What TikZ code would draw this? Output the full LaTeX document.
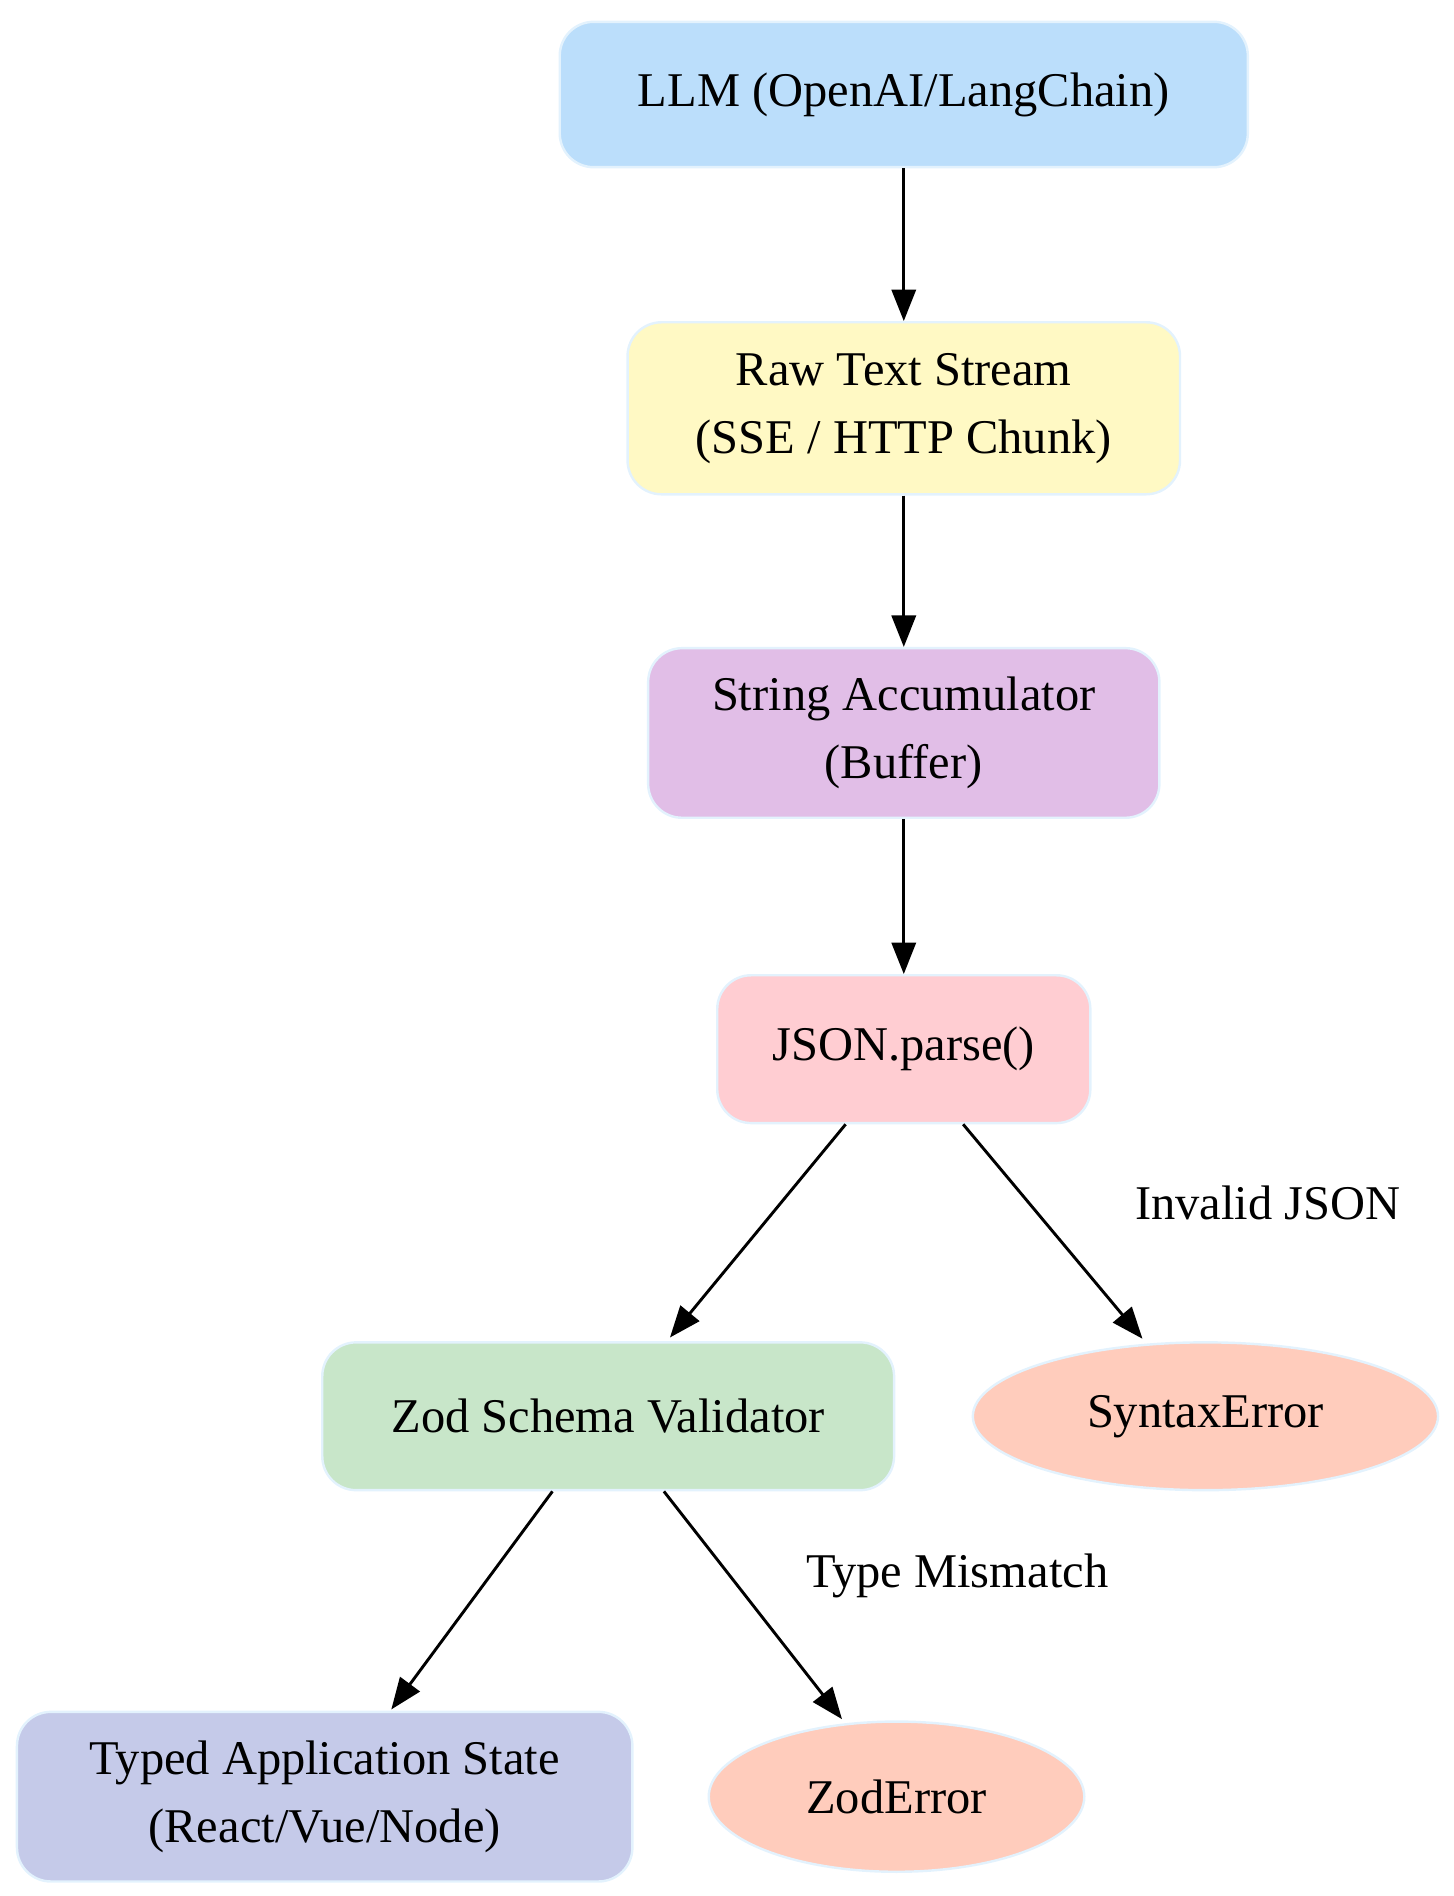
\documentclass[tikz,border=0pt]{standalone}
\usepackage{fontspec}
\setmainfont{Liberation Serif}
\usetikzlibrary{arrows.meta,calc,shapes.geometric}
\definecolor{bd}{HTML}{E3F2FD}
\begin{document}
\begin{tikzpicture}[x=0.5pt,y=-0.5pt,
 box/.style={draw=bd,line width=1pt,rounded corners=14pt,align=center,font=\fontsize{20}{28}\selectfont,inner sep=0pt},
 ell/.style={draw=bd,line width=1pt,ellipse,align=center,font=\fontsize{20}{28}\selectfont,inner sep=0pt},
 arr/.style={line width=1.2pt,-{Triangle[length=13pt,width=10pt]}},
 lab/.style={font=\fontsize{20}{24}\selectfont}]
\useasboundingbox (0,0) rectangle (1200,1565);
\node[box,fill={rgb,255:red,187;green,222;blue,251},minimum width=284pt,minimum height=60pt] (llm) at (746,78) {LLM (OpenAI/LangChain)};
\node[box,fill={rgb,255:red,255;green,249;blue,196},minimum width=228pt,minimum height=71pt] (raw) at (746,337) {Raw Text Stream\\(SSE / HTTP Chunk)};
\node[box,fill={rgb,255:red,225;green,190;blue,231},minimum width=211pt,minimum height=70pt] (acc) at (746,605) {String Accumulator\\(Buffer)};
\node[box,fill={rgb,255:red,255;green,205;blue,210},minimum width=154pt,minimum height=61pt] (json) at (746,866) {JSON.parse()};
\node[box,fill={rgb,255:red,200;green,230;blue,201},minimum width=236pt,minimum height=61pt] (zod) at (502,1169) {Zod Schema Validator};
\node[ell,fill={rgb,255:red,255;green,204;blue,188},minimum width=192pt,minimum height=61pt] (syn) at (995,1169) {SyntaxError};
\node[box,fill={rgb,255:red,197;green,202;blue,233},minimum width=254pt,minimum height=70pt] (typ) at (268,1483) {Typed Application State\\(React/Vue/Node)};
\node[ell,fill={rgb,255:red,255;green,204;blue,188},minimum width=155pt,minimum height=62pt] (zerr) at (740,1483) {ZodError};
\draw[arr] (llm) -- (raw);
\draw[arr] (raw) -- (acc);
\draw[arr] (acc) -- (json);
\draw[arr] ($(json.south)+(-48,0)$) -- ($(zod.north)+(51,-3)$);
\draw[arr] ($(json.south)+(49,0)$) -- ($(syn.north)+(-52,-2)$) node[lab,pos=0.5,right=0pt,xshift=30pt,yshift=12pt] (l1) {Invalid JSON};
\draw[arr] ($(zod.south)+(-46,0)$) -- ($(typ.north)+(55,-1)$);
\draw[arr] ($(zod.south)+(46,0)$) -- ($(zerr.north)+(-45,-1)$) node[lab,pos=0.5,right=0pt,xshift=18pt,yshift=12pt] (l2) {Type Mismatch};
\end{tikzpicture}
\end{document}
